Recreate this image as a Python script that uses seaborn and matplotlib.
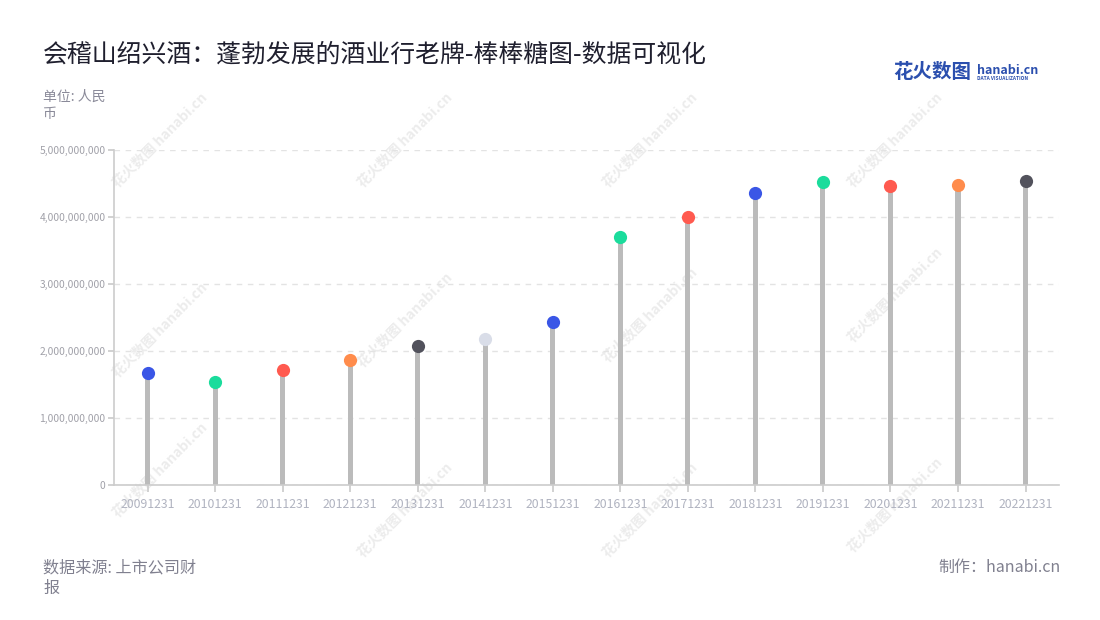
import numpy as np
import pandas as pd
import seaborn as sns
import matplotlib.pyplot as plt
from matplotlib.ticker import FuncFormatter

# data (revenue, RMB)
years = ['20091231', '20101231', '20111231', '20121231', '20131231', '20141231', '20151231',
         '20161231', '20171231', '20181231', '20191231', '20201231', '20211231', '20221231']
revenue = [1.672e9, 1.537e9, 1.716e9, 1.866e9, 2.075e9, 2.179e9, 2.433e9,
           3.701e9, 4.000e9, 4.358e9, 4.522e9, 4.463e9, 4.478e9, 4.537e9]
dot_colors = ['#3a56e6', '#1bdc9c', '#ff5a4f', '#ff8c4c', '#52525c', '#d9dde8', '#3a56e6',
              '#1bdc9c', '#ff5a4f', '#3a56e6', '#1bdc9c', '#ff5a4f', '#ff8c4c', '#52525c']

df = pd.DataFrame({'year': years, 'revenue': revenue})

sns.set_theme(style='white')
plt.rcParams['font.family'] = ['Noto Sans CJK SC', 'DejaVu Sans']

fig = plt.figure(figsize=(11, 6.2), dpi=100)
ax = fig.add_axes([0.1036, 0.2177, 0.8594, 0.5403])
ax.set_facecolor('none')
ax.set_zorder(2)

# faint watermarks behind the chart
for (wx, wy) in [(160, 140), (405, 140), (650, 140), (895, 140),
                 (160, 330), (405, 320), (650, 315), (895, 295),
                 (160, 470), (405, 510), (650, 510), (895, 505)]:
    fig.text(wx / 1100, 1 - wy / 620, '花火数图 hanabi.cn', rotation=45, color='#ececec',
             fontsize=10, fontweight='bold', ha='center', va='center', zorder=0)

# stems
sns.barplot(data=df, x='year', y='revenue', color='#bbbbbb', width=0.075,
            saturation=1, linewidth=0, ax=ax, zorder=2)
# heads
sns.stripplot(data=df, x='year', y='revenue', hue='year', palette=dot_colors,
              jitter=False, size=9.5, linewidth=0, legend=False, ax=ax, zorder=3)

ax.set_xlim(-0.5, len(years) - 0.5)
ax.set_ylim(0, 5e9)
ax.set_yticks(np.arange(0, 5.01e9, 1e9))
ax.yaxis.set_major_formatter(FuncFormatter(lambda v, p: f'{int(v):,}'))
ax.grid(axis='y', color='#e3e3e3', linestyle=(0, (4, 4)), linewidth=1)
ax.set_axisbelow(True)
ax.set_xlabel('')
ax.set_ylabel('')

for s in ['top', 'right']:
    ax.spines[s].set_visible(False)
for s in ['left', 'bottom']:
    ax.spines[s].set_color('#cccccc')
    ax.spines[s].set_linewidth(1.2)

ax.tick_params(axis='y', left=True, length=4, color='#cccccc', labelsize=7.4,
               labelcolor='#a0a0a8', pad=2)
ax.tick_params(axis='x', bottom=True, length=5, color='#cccccc', labelsize=8.8,
               labelcolor='#b0b3c0', pad=4)

# titles and notes
fig.text(43 / 1100, 1 - 55 / 620, '会稽山绍兴酒：蓬勃发展的酒业行老牌-棒棒糖图-数据可视化',
         fontsize=17.9, color='#1f1f2e', ha='left', va='center')
fig.text(43 / 1100, 1 - 105 / 620, '单位: 人民\n币', fontsize=10, color='#8a8a99',
         ha='left', va='center', linespacing=1.3)
fig.text(43 / 1100, 1 - 578 / 620, '数据来源: 上市公司财\n报', fontsize=11.6, color='#80808f',
         ha='left', va='center', linespacing=1.25)
fig.text(1061 / 1100, 1 - 567 / 620, '制作：hanabi.cn', fontsize=11.5, color='#80808f',
         ha='right', va='center')

# logo
fig.text(893 / 1100, 1 - 73 / 620, '花火数图', fontsize=14, fontweight='bold',
         color='#2b4fae', ha='left', va='center')
fig.text(977 / 1100, 1 - 70 / 620, 'hanabi.cn', fontsize=9, fontweight='bold',
         color='#2b4fae', ha='left', va='center')
fig.text(977 / 1100, 1 - 79 / 620, 'DATA VISUALIZATION', fontsize=3.5, fontweight='bold',
         color='#2b4fae', ha='left', va='center')

fig.savefig('out.png', dpi=100, facecolor='white')
